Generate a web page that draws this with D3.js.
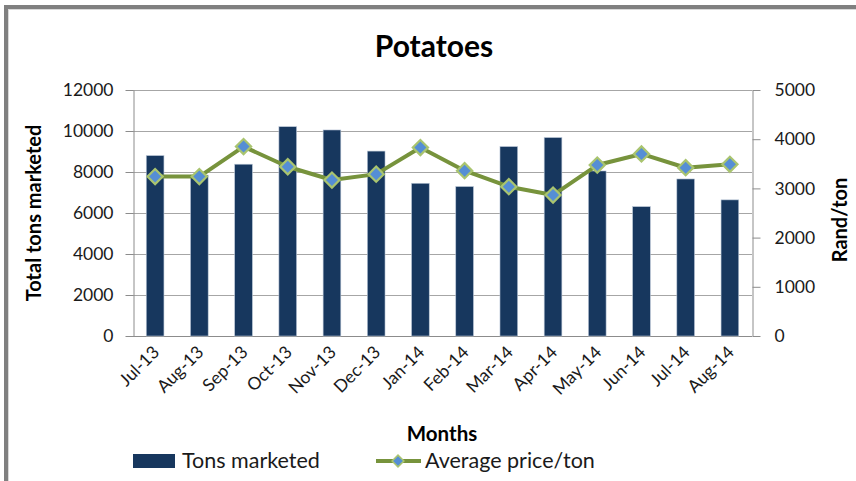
<!DOCTYPE html>
<html><head><meta charset="utf-8">
<script src="https://cdn.jsdelivr.net/npm/d3@7/dist/d3.min.js"></script>
<style>
html,body{margin:0;padding:0;background:#fff;}
svg{display:block;font-family:Lato,"Open Sans",sans-serif;}
</style></head>
<body><svg id="chart" width="856" height="481"></svg>
<script>
const months = ["Jul-13","Aug-13","Sep-13","Oct-13","Nov-13","Dec-13","Jan-14","Feb-14","Mar-14","Apr-14","May-14","Jun-14","Jul-14","Aug-14"];
const tonsMarketed = [8800,7850,8380,10210,10050,9020,7450,7290,9240,9680,8050,6310,7660,6640];
const avgPrice = [3240,3240,3850,3440,3170,3290,3830,3360,3035,2865,3475,3700,3420,3490];
const leftTicks = [0,2000,4000,6000,8000,10000,12000];
const rightTicks = [0,1000,2000,3000,4000,5000];

const svg = d3.select("#chart");
const L = 133, R = 752, T = 90, B = 336;

// frame
svg.append("rect").attr("x",4).attr("y",5).attr("width",852).attr("height",4).attr("fill","#808080");
svg.append("rect").attr("x",4).attr("y",5).attr("width",4).attr("height",476).attr("fill","#808080");
svg.append("rect").attr("x",8).attr("y",9).attr("width",848).attr("height",1).attr("fill","#d9d9d9");
svg.append("rect").attr("x",8).attr("y",9).attr("width",1).attr("height",472).attr("fill","#d9d9d9");

const x = d3.scaleBand().domain(months).range([L,R]).paddingInner(0.6).paddingOuter(0.3);
const xc = d3.scalePoint().domain(months).range([L,R]).padding(0.5);
const yL = d3.scaleLinear().domain([0,12000]).range([B,T]);
const yR = d3.scaleLinear().domain([0,5000]).range([B,T]);
const fmt = d3.format("d");

// gridlines
svg.append("g").selectAll("line").data(leftTicks).join("line")
  .attr("x1",L).attr("x2",R).attr("y1",d=>yL(d)+0.5).attr("y2",d=>yL(d)+0.5)
  .attr("stroke","#a6a6a6").attr("stroke-width",1);

// left axis
const gl = svg.append("g").attr("transform",`translate(${L+0.5},0)`)
  .call(d3.axisLeft(yL).tickValues(leftTicks).tickFormat(fmt).tickSize(8).tickPadding(12).tickSizeOuter(0));
gl.select(".domain").attr("stroke","#8c8c8c");
gl.selectAll(".tick line").attr("stroke","#8c8c8c");
gl.selectAll("text").attr("font-size",17.5).attr("fill","#1a1a1a").attr("font-family","Lato");

// right axis
const gr = svg.append("g").attr("transform",`translate(${R+0.5},0)`)
  .call(d3.axisRight(yR).tickValues(rightTicks).tickFormat(fmt).tickSize(8).tickPadding(14).tickSizeOuter(0));
gr.select(".domain").attr("stroke","#8c8c8c");
gr.selectAll(".tick line").attr("stroke","#8c8c8c");
gr.selectAll("text").attr("font-size",17.5).attr("fill","#1a1a1a").attr("font-family","Lato");

// bottom axis line
svg.append("line").attr("x1",L).attr("x2",R).attr("y1",B+0.5).attr("y2",B+0.5).attr("stroke","#8c8c8c");

// bars
svg.append("g").selectAll("rect").data(tonsMarketed).join("rect")
  .attr("x",(d,i)=>xc(months[i]) - x.bandwidth()/2)
  .attr("width",x.bandwidth())
  .attr("y",d=>yL(d)).attr("height",d=>B - yL(d))
  .attr("fill","#17375e").attr("stroke","#b9c6d6").attr("stroke-width",0.6);

// line
const line = d3.line().x((d,i)=>xc(months[i])).y(d=>yR(d));
svg.append("path").datum(avgPrice).attr("d",line).attr("fill","none")
  .attr("stroke","#77933c").attr("stroke-width",4).attr("stroke-linejoin","round");
svg.append("g").selectAll("path").data(avgPrice).join("path")
  .attr("transform",(d,i)=>`translate(${xc(months[i])},${yR(d)}) rotate(45)`)
  .attr("d", d3.symbol().type(d3.symbolSquare).size(115))
  .attr("fill","#558ed5").attr("stroke","#a9c46f").attr("stroke-width",2.2);

// x labels
svg.append("g").selectAll("text").data(months).join("text")
  .attr("transform",d=>`translate(${xc(d)+1},${B+13}) rotate(-45)`)
  .attr("text-anchor","end").attr("dy","0.35em")
  .attr("font-size",17.5).attr("fill","#1a1a1a").text(d=>d);

// titles
svg.append("text").attr("x",434).attr("y",57).attr("text-anchor","middle")
  .attr("font-size",30).attr("font-weight","bold").attr("fill","#000").text("Potatoes");
svg.append("text").attr("transform","translate(41,213) rotate(-90)").attr("text-anchor","middle")
  .attr("font-size",20).attr("font-weight","bold").attr("fill","#000").text("Total tons marketed");
svg.append("text").attr("transform","translate(847,220) rotate(-90)").attr("text-anchor","middle")
  .attr("font-size",20).attr("font-weight","bold").attr("fill","#000").text("Rand/ton");
svg.append("text").attr("x",442).attr("y",441).attr("text-anchor","middle")
  .attr("font-size",20.5).attr("font-weight","bold").attr("fill","#000").text("Months");

// legend
const lg = svg.append("g");
lg.append("rect").attr("x",133).attr("y",454).attr("width",42).attr("height",14).attr("fill","#17375e");
lg.append("text").attr("x",182).attr("y",468).attr("font-size",21.5).attr("fill","#1a1a1a").text("Tons marketed");
lg.append("line").attr("x1",376).attr("x2",421).attr("y1",461).attr("y2",461).attr("stroke","#77933c").attr("stroke-width",4);
lg.append("path").attr("transform","translate(398,461) rotate(45)")
  .attr("d", d3.symbol().type(d3.symbolSquare).size(70))
  .attr("fill","#558ed5").attr("stroke","#a9c46f").attr("stroke-width",1.5);
lg.append("text").attr("x",425).attr("y",468).attr("font-size",21.5).attr("fill","#1a1a1a").text("Average price/ton");
</script></body></html>
